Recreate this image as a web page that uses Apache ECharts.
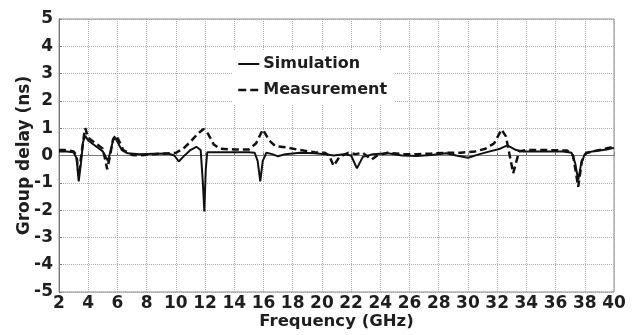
<!DOCTYPE html>
<html>
<head>
<meta charset="utf-8">
<script src="https://cdn.jsdelivr.net/npm/echarts@6/dist/echarts.min.js"></script>
<style>
  html, body { margin: 0; padding: 0; background: #fff; }
  #chart { width: 635px; height: 335px; }
</style>
</head>
<body>
<div id="chart"></div>
<script>
// Group delay of the filter: simulated vs. measured (GHz, ns)
const simFreq = [2.0, 2.5, 3.0, 3.2, 3.35, 3.5, 3.65, 3.8, 4.0, 4.5, 5.0, 5.2, 5.35, 5.5, 5.7, 5.85, 6.0, 6.3, 6.7, 7.5, 8.5, 9.5, 9.9, 10.2, 10.5, 11.0, 11.4, 11.7, 11.85, 11.95, 12.05, 12.15, 13, 14, 15, 15.4, 15.6, 15.78, 15.95, 16.2, 16.6, 17.0, 17.5, 18.5, 19.5, 20.2, 20.8, 21.5, 22.0, 22.4, 22.8, 23.5, 24.5, 25.5, 26.5, 27.5, 28.5, 29.2, 30.0, 30.8, 31.5, 32.2, 32.7, 33.3, 33.8, 35, 36.5, 37.1, 37.35, 37.55, 37.75, 38.0, 38.5, 39.5, 40];
const simDelay = [0.15, 0.15, 0.12, -0.1, -0.95, -0.3, 0.5, 0.72, 0.55, 0.35, 0.15, -0.05, -0.2, 0.1, 0.55, 0.65, 0.5, 0.2, 0.08, 0.05, 0.06, 0.07, 0.0, -0.22, -0.05, 0.2, 0.32, 0.2, -1.0, -2.05, -0.5, 0.12, 0.12, 0.12, 0.12, 0.1, -0.2, -0.95, -0.2, 0.1, 0.05, -0.03, 0.05, 0.1, 0.08, 0.05, 0.0, 0.05, 0.0, -0.47, -0.05, 0.05, 0.08, 0.0, -0.02, 0.02, 0.08, 0.0, -0.08, 0.05, 0.15, 0.25, 0.37, 0.2, 0.15, 0.15, 0.15, 0.1, -0.3, -0.9, -0.3, 0.05, 0.15, 0.22, 0.28];

const measFreq = [2.0, 2.5, 3.0, 3.2, 3.35, 3.5, 3.7, 3.8, 4.0, 4.5, 5.0, 5.3, 5.5, 5.7, 5.9, 6.1, 6.4, 7.0, 7.5, 8.5, 9.5, 10.0, 10.5, 11.0, 11.5, 11.9, 12.2, 12.6, 13.0, 14.0, 15.0, 15.5, 15.95, 16.4, 16.8, 17.5, 18.5, 19.5, 20.2, 20.5, 20.8, 21.2, 21.8, 22.3, 22.8, 23.4, 23.8, 24.5, 25.5, 26.5, 27.5, 28.5, 29.5, 30.5, 31.2, 31.8, 32.3, 32.6, 33.1, 33.5, 34.0, 35.5, 36.8, 37.2, 37.55, 37.8, 38.1, 39.0, 40];
const measDelay = [0.2, 0.2, 0.15, 0.0, -0.75, -0.1, 0.7, 1.0, 0.65, 0.45, 0.25, -0.5, 0.0, 0.6, 0.75, 0.55, 0.2, 0.02, 0.0, 0.05, 0.08, 0.1, 0.25, 0.5, 0.8, 0.97, 0.8, 0.4, 0.25, 0.22, 0.22, 0.45, 0.95, 0.55, 0.35, 0.3, 0.2, 0.12, 0.1, 0.0, -0.38, -0.05, 0.1, 0.05, 0.1, -0.15, 0.0, 0.1, 0.05, 0.05, 0.07, 0.1, 0.1, 0.15, 0.25, 0.45, 0.95, 0.7, -0.65, 0.15, 0.2, 0.2, 0.18, 0.0, -1.15, -0.2, 0.1, 0.2, 0.32];

const seriesNames = ['Simulation', 'Measurement'];
const xTicks = { min: 2, max: 40, step: 2 };
const yTicks = { min: -5, max: 5, step: 1 };

const pairs = (xs, ys) => xs.map((x, i) => [x, ys[i]]);

const font = 'DejaVu Sans';
const textColor = '#1e1e1e';
const gridLine = { show: true, lineStyle: { color: '#a8a8a8', type: [1, 1], width: 1 } };
const dashPattern = [7, 4];

const chart = echarts.init(document.getElementById('chart'), null, { renderer: 'canvas' });
chart.setOption({
  animation: false,
  backgroundColor: '#fff',
  grid: {
    left: 59, right: 21, top: 19, bottom: 40,
    show: true, borderColor: '#8a8a8a', borderWidth: 1, backgroundColor: 'transparent'
  },
  legend: {
    left: 232, top: 50,
    orient: 'vertical',
    backgroundColor: '#fff',
    padding: [6, 7, 6, 5],
    itemWidth: 21, itemHeight: 14, itemGap: 10,
    itemStyle: { opacity: 0, color: 'transparent', borderWidth: 0 },
    textStyle: { fontFamily: font, fontWeight: 'bold', fontSize: 16, color: textColor, padding: [0, 0, 0, -1] },
    data: [
      { name: seriesNames[0], lineStyle: { color: '#111', width: 2, type: 'solid' } },
      { name: seriesNames[1], lineStyle: { color: '#111', width: 2.5, type: [8, 4] } }
    ]
  },
  xAxis: {
    type: 'value',
    min: xTicks.min, max: xTicks.max, interval: xTicks.step,
    name: 'Frequency (GHz)', nameLocation: 'middle', nameGap: 21, nameMoveOverlap: false,
    nameTextStyle: { fontFamily: font, fontWeight: 'bold', fontSize: 16.5, color: textColor },
    axisLine: { lineStyle: { color: '#7a7a7a', width: 1 } },
    axisTick: { inside: true, length: 3, lineStyle: { color: '#7a7a7a' } },
    axisLabel: { fontFamily: font, fontWeight: 'bold', fontSize: 17, color: textColor, margin: 3 },
    splitLine: gridLine
  },
  yAxis: {
    type: 'value',
    min: yTicks.min, max: yTicks.max, interval: yTicks.step,
    name: 'Group delay (ns)', nameLocation: 'middle', nameGap: 26, nameRotate: 90, nameMoveOverlap: false,
    nameTextStyle: { fontFamily: font, fontWeight: 'bold', fontSize: 17, color: textColor },
    axisLine: { show: true, lineStyle: { color: '#7a7a7a', width: 1 } },
    axisTick: { show: true, inside: true, length: 3, lineStyle: { color: '#7a7a7a' } },
    axisLabel: { fontFamily: font, fontWeight: 'bold', fontSize: 17, color: textColor, margin: 6 },
    splitLine: gridLine
  },
  series: [
    {
      name: seriesNames[0], type: 'line', data: pairs(simFreq, simDelay),
      symbol: 'none', smooth: false,
      lineStyle: { color: '#111', width: 2 }, itemStyle: { color: '#111' }, z: 3
    },
    {
      name: seriesNames[1], type: 'line', data: pairs(measFreq, measDelay),
      symbol: 'none', smooth: false,
      lineStyle: { color: '#111', width: 2.5, type: dashPattern }, itemStyle: { color: '#111' }, z: 2
    }
  ]
});
</script>
</body>
</html>
